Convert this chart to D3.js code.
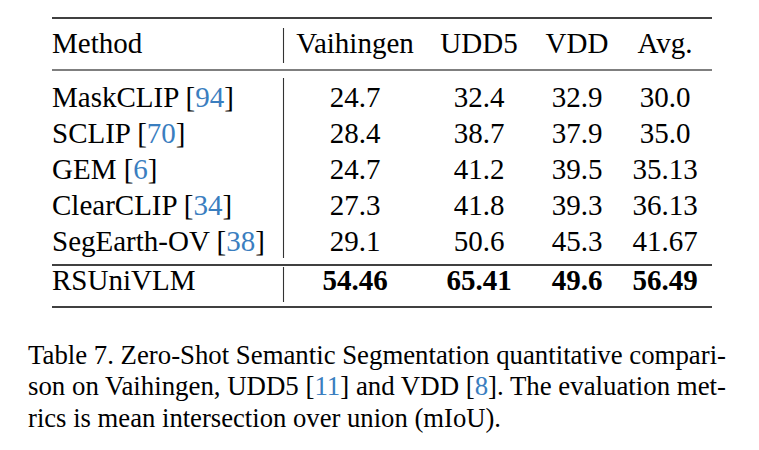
<!DOCTYPE html>
<html><head><meta charset="utf-8">
<script src="https://cdn.jsdelivr.net/npm/d3@7"></script>
<style>
html,body{margin:0;padding:0;background:#fff;}
</style></head>
<body><svg id="c" width="759" height="450"></svg>
<script>
const columns = ["Vaihingen", "UDD5", "VDD", "Avg."];
const methods = ["MaskCLIP", "SCLIP", "GEM", "ClearCLIP", "SegEarth-OV"];
const refs = ["94", "70", "6", "34", "38"];
const vaihingen = ["24.7", "28.4", "24.7", "27.3", "29.1"];
const udd5 = ["32.4", "38.7", "41.2", "41.8", "50.6"];
const vdd = ["32.9", "37.9", "39.5", "39.3", "45.3"];
const avg = ["30.0", "35.0", "35.13", "36.13", "41.67"];
const oursName = "RSUniVLM";
const oursValues = ["54.46", "65.41", "49.6", "56.49"];
const captionLines = [
  [["Table 7. Zero-Shot Semantic Segmentation quantitative compari-", 0]],
  [["son on Vaihingen, UDD5 [", 0], ["11", 1], ["] and VDD [", 0], ["8", 1], ["]. The evaluation met-", 0]],
  [["rics is mean intersection over union (mIoU).", 0]]
];

const svg = d3.select("#c").attr("font-family", "Liberation Serif, Times New Roman, serif");
const FS = 29, CFS = 27, BLUE = "#3a7ebf";
const left = 52, right = 712, vx = 283.5;
const x = d3.scaleOrdinal().domain(columns).range([355, 479, 577, 665]);
const y = d3.scaleBand().domain(methods).range([78, 258]).paddingInner(0);
const series = [vaihingen, udd5, vdd, avg];

// rules
const rule = (yy, w) => svg.append("line").attr("x1", left).attr("x2", right).attr("y1", yy).attr("y2", yy).attr("stroke", "#000").attr("stroke-width", w);
rule(18, 1.6); rule(70, 1.2); rule(265, 1.6); rule(307, 1.6);
// vertical separators
[[28, 63], [78, 258], [267, 302]].forEach(([a, b]) =>
  svg.append("line").attr("x1", vx).attr("x2", vx).attr("y1", a).attr("y2", b).attr("stroke", "#333").attr("stroke-width", 1.1));

// header
const hy = 53;
svg.append("text").attr("x", left).attr("y", hy).attr("font-size", FS).text("Method");
svg.selectAll("text.hdr").data(columns).join("text").attr("class", "hdr")
  .attr("x", d => x(d)).attr("y", hy).attr("text-anchor", "middle").attr("font-size", FS).text(d => d);

// body
const rowBase = d => y(d) + y.bandwidth() * 0.8;
const mt = svg.selectAll("text.method").data(methods).join("text").attr("class", "method")
  .attr("x", left).attr("y", d => rowBase(d)).attr("font-size", FS);
mt.append("tspan").text(d => d + " [");
mt.append("tspan").attr("fill", BLUE).text((d, i) => refs[i]);
mt.append("tspan").text("]");
series.forEach((vals, ci) => {
  svg.selectAll("text.c" + ci).data(vals).join("text").attr("class", "c" + ci)
    .attr("x", x(columns[ci])).attr("y", (d, i) => rowBase(methods[i]))
    .attr("text-anchor", "middle").attr("font-size", FS).text(d => d);
});

// ours row
const oy = 290;
svg.append("text").attr("x", left).attr("y", oy).attr("font-size", FS).text(oursName);
svg.selectAll("text.ours").data(oursValues).join("text").attr("class", "ours")
  .attr("x", (d, i) => x(columns[i])).attr("y", oy).attr("text-anchor", "middle")
  .attr("font-size", FS).attr("font-weight", "bold").text(d => d);

// caption
const capY = [363.5, 395, 426.5];
const capW = [698, 698, 473];
captionLines.forEach((parts, li) => {
  const t = svg.append("text").attr("x", 28).attr("y", capY[li]).attr("font-size", CFS)
    .attr("textLength", capW[li]).attr("lengthAdjust", "spacingAndGlyphs");
  parts.forEach(([s, c]) => t.append("tspan").attr("fill", c ? BLUE : "#000").text(s));
});
</script></body></html>
